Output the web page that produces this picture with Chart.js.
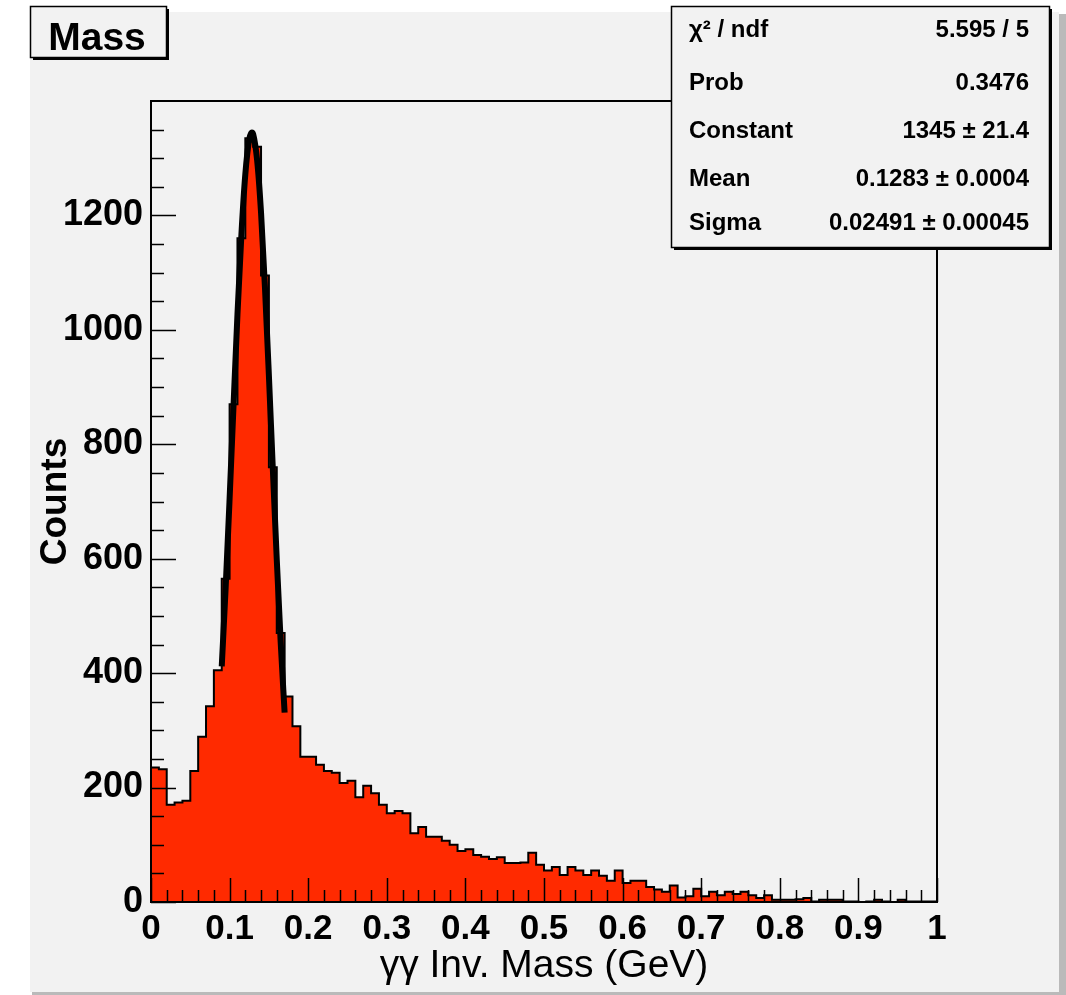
<!DOCTYPE html>
<html>
<head>
<meta charset="utf-8">
<script src="https://cdn.jsdelivr.net/npm/chart.js@4.4.1/dist/chart.umd.min.js"></script>
<style>
  html, body { margin: 0; padding: 0; background: #fff; }
  canvas { display: block; }
</style>
</head>
<body>
<canvas id="massChart" width="1066" height="995"></canvas>
<script>
// gamma-gamma invariant mass histogram, 100 bins from 0 to 1 GeV
var binLow = 0;
var binWidth = 0.01;
var counts = [
  235, 232, 170, 174, 177, 229, 289, 342, 405, 565,
  870, 1160, 1335, 1320, 1095, 760, 470, 359, 307, 254,
  254, 240, 229, 226, 208, 212, 183, 203, 190, 170,
  155, 159, 155, 120, 131, 114, 114, 107, 100, 89,
  92, 82, 79, 75, 78, 68, 68, 69, 86, 65,
  55, 61, 47, 61, 55, 47, 55, 46, 37, 55,
  33, 37, 37, 26, 22, 18, 29, 8, 10, 23,
  10, 18, 12, 18, 14, 18, 12, 7, 12, 4,
  4, 4, 5, 7, 1, 4, 4, 4, 1, 1,
  0, 1, 4, 1, 0, 4, 1, 1, 1, 1
];

// gaussian fit curve
var fitX = [0.09, 0.095, 0.1, 0.105, 0.11, 0.115, 0.12, 0.125, 0.1283, 0.13, 0.135, 0.14, 0.145, 0.15, 0.155, 0.16, 0.165, 0.17];
var fitY = [412, 550, 705, 868, 1027, 1166, 1272, 1333, 1345, 1342, 1297, 1205, 1074, 920, 757, 599, 454, 331];

// stats box
var statLabels = ['\u03c7\u00b2 / ndf', 'Prob', 'Constant', 'Mean', 'Sigma'];
var statValues = ['5.595 / 5', '0.3476', '1345 \u00b1 21.4', '0.1283 \u00b1 0.0004', '0.02491 \u00b1 0.00045'];

var yMax = 1400;
var FONT = 'Liberation Sans, Arial, sans-serif';

var histPoints = [{x: binLow, y: 0}];
counts.forEach(function(c, i) {
  histPoints.push({x: binLow + i * binWidth, y: c});
});
histPoints.push({x: binLow + counts.length * binWidth, y: counts[counts.length - 1]});
histPoints.push({x: binLow + counts.length * binWidth, y: 0});

var fitPoints = fitX.map(function(x, i) { return {x: x, y: fitY[i]}; });

function box(ctx, x, y, w, h) {
  ctx.fillStyle = '#000';
  ctx.fillRect(x + 3, y + 3, w, h);
  ctx.fillStyle = '#f2f2f2';
  ctx.fillRect(x, y, w, h);
  ctx.strokeStyle = '#000';
  ctx.lineWidth = 1.5;
  ctx.strokeRect(x + 0.5, y + 0.5, w, h);
}

var rootPad = {
  id: 'rootPad',
  beforeDraw: function(chart) {
    var ctx = chart.ctx;
    ctx.save();
    ctx.fillStyle = '#fff';
    ctx.fillRect(0, 0, chart.width, chart.height);
    ctx.fillStyle = '#bababa';
    ctx.fillRect(1059, 14, 7, 981);
    ctx.fillRect(32, 992, 1034, 3);
    ctx.fillStyle = '#f2f2f2';
    ctx.fillRect(30, 12, 1029, 980);
    ctx.restore();
  },
  afterDatasetsDraw: function(chart) {
    var ctx = chart.ctx;
    var a = chart.chartArea;
    var xs = chart.scales.x, ys = chart.scales.y;
    ctx.save();
    ctx.strokeStyle = '#000';
    ctx.lineWidth = 2;
    ctx.strokeRect(a.left, a.top, a.right - a.left, a.bottom - a.top);
    ctx.beginPath();
    for (var v = 0; v < yMax; v += 50) {
      var py = Math.round(ys.getPixelForValue(v)) + 0.5;
      var len = (v % 200 === 0) ? 25 : 13;
      ctx.moveTo(a.left, py);
      ctx.lineTo(a.left + len, py);
    }
    for (var k = 0; k <= 50; k++) {
      var px = Math.round(xs.getPixelForValue(k * 0.02)) + 0.5;
      var l = (k % 5 === 0) ? 24 : 12;
      ctx.moveTo(px, a.bottom);
      ctx.lineTo(px, a.bottom - l);
    }
    ctx.lineWidth = 1.5;
    ctx.stroke();
    ctx.restore();
  },
  afterDraw: function(chart) {
    var ctx = chart.ctx;
    ctx.save();
    // title box
    box(ctx, 30, 6, 136, 51);
    ctx.fillStyle = '#000';
    ctx.font = 'bold 39px ' + FONT;
    ctx.textAlign = 'center';
    ctx.textBaseline = 'alphabetic';
    ctx.fillText('Mass', 97, 50);
    // stats box
    var bx = 671, by = 6, bw = 378, bh = 241;
    box(ctx, bx, by, bw, bh);
    ctx.font = 'bold 24px ' + FONT;
    ctx.fillStyle = '#000';
    var rowY = [37, 90, 138, 186, 230];
    for (var i = 0; i < statLabels.length; i++) {
      ctx.textAlign = 'left';
      ctx.fillText(statLabels[i], 689, rowY[i]);
      ctx.textAlign = 'right';
      ctx.fillText(statValues[i], 1029, rowY[i]);
    }
    ctx.restore();
  }
};

var ctx = document.getElementById('massChart').getContext('2d');
var myChart = new Chart(ctx, {
  type: 'line',
  data: {
    datasets: [{
      label: 'Gaussian fit',
      data: fitPoints,
      borderColor: '#000',
      borderWidth: 6,
      pointRadius: 0,
      fill: false,
      cubicInterpolationMode: 'monotone',
      order: 0
    }, {
      label: 'Mass',
      data: histPoints,
      stepped: 'before',
      borderColor: '#000',
      borderWidth: 2,
      backgroundColor: '#ff2a00',
      fill: 'origin',
      pointRadius: 0,
      order: 1
    }]
  },
  options: {
    responsive: false,
    animation: false,
    events: [],
    layout: { padding: { left: 0, top: 101, right: 129, bottom: 0 } },
    plugins: {
      legend: { display: false },
      tooltip: { enabled: false },
      title: { display: false }
    },
    scales: {
      x: {
        type: 'linear',
        min: 0,
        max: 1,
        afterFit: function(s) { s.height = 93; },
        grid: { display: false, drawTicks: false },
        border: { display: false },
        ticks: {
          stepSize: 0.1,
          autoSkip: false,
          maxRotation: 0,
          padding: 6,
          color: '#000',
          font: { family: FONT, size: 35, weight: 'bold' },
          callback: function(v) {
            if (Math.abs(v) < 1e-9) return '0';
            if (Math.abs(v - 1) < 1e-9) return '1';
            return v.toFixed(1);
          }
        },
        title: {
          display: true,
          text: '\u03b3\u03b3 Inv. Mass (GeV)',
          color: '#000',
          font: { family: FONT, size: 39 },
          padding: { top: 0, bottom: 5 }
        }
      },
      y: {
        min: 0,
        max: yMax,
        afterFit: function(s) { s.width = 151; },
        grid: { display: false, drawTicks: false },
        border: { display: false },
        ticks: {
          stepSize: 200,
          padding: 8,
          color: '#000',
          font: { family: FONT, size: 36, weight: 'bold' },
          callback: function(v) { return v >= yMax ? '' : String(v); }
        },
        title: {
          display: true,
          text: 'Counts',
          color: '#000',
          font: { family: FONT, size: 37, weight: 'bold' },
          padding: { top: 34, bottom: 0 }
        }
      }
    }
  },
  plugins: [rootPad]
});
</script>
</body>
</html>
